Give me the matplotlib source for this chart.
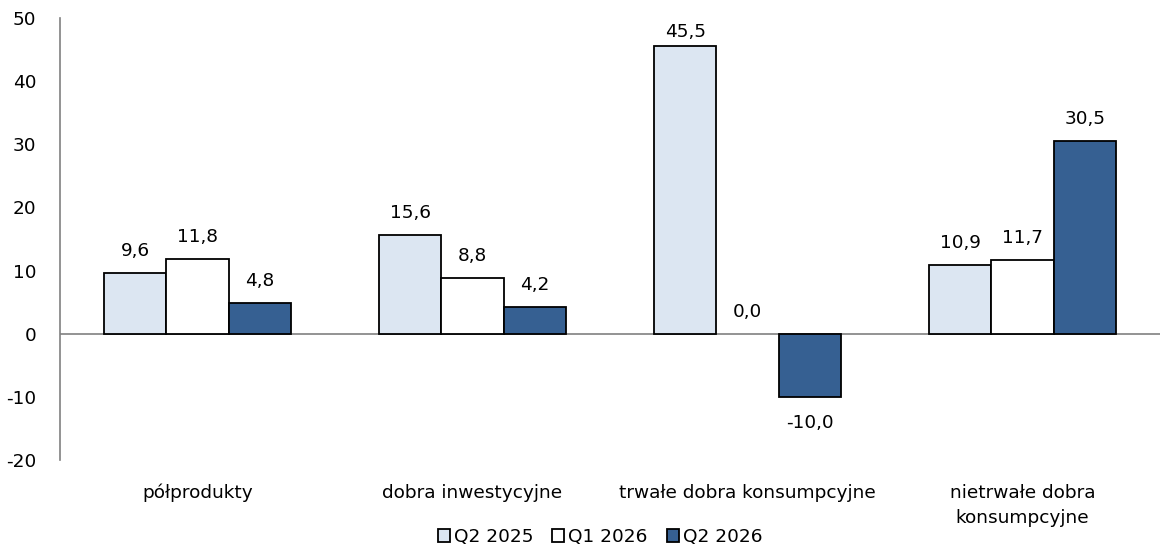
import matplotlib
matplotlib.use("Agg")
import matplotlib.pyplot as plt
import numpy as np

categories = ["półprodukty", "dobra inwestycyjne", "trwałe dobra konsumpcyjne",
              "nietrwałe dobra\nkonsumpcyjne"]
series_names = ["Q2 2025", "Q1 2026", "Q2 2026"]
q2_2025 = [9.6, 15.6, 45.5, 10.9]
q1_2026 = [11.8, 8.8, 0.0, 11.7]
q2_2026 = [4.8, 4.2, -10.0, 30.5]
y_ticks = [-20, -10, 0, 10, 20, 30, 40, 50]

colors = ["#DCE6F2", "#FFFFFF", "#366092"]

plt.rcParams['font.family'] = ['DejaVu Sans']
fig = plt.figure(figsize=(11.73, 5.52), dpi=100)
ax = fig.add_axes([60 / 1173, 1 - 460 / 552, 1100 / 1173, 442 / 552])

x = np.arange(len(categories))
width = 0.227
fs = 13.3
y_min, y_max = -20, 50

for i, (vals, name, col) in enumerate(zip([q2_2025, q1_2026, q2_2026], series_names, colors)):
    pos = x + (i - 1) * width
    lws = [0 if v == 0 else 1.3 for v in vals]
    ax.bar(pos, vals, width, color=col, edgecolor="black", linewidth=lws,
           label=name, zorder=3)
    for xp, v in zip(pos, vals):
        txt = f"{v:.1f}".replace(".", ",")
        # labels sit above positive bars (kept inside the plot) and below negative ones
        ty = min(v + 3.5, y_max - 2.2) if v >= 0 else v - 4.2
        ax.text(xp, ty, txt, ha="center", va="center", fontsize=fs)

ax.set_xlim(-0.5, len(categories) - 0.5)
ax.set_ylim(y_min, y_max)
ax.set_yticks(y_ticks)
ax.set_yticklabels([str(t) for t in y_ticks], fontsize=fs)
ax.set_xticks(x)
ax.set_xticklabels(categories, fontsize=fs, va="top", linespacing=1.5)
ax.tick_params(axis="x", length=0, pad=17)
ax.tick_params(axis="y", length=0, pad=17)
ax.axhline(0, color="#808080", linewidth=1.2, zorder=2)

for s in ["top", "right", "bottom"]:
    ax.spines[s].set_visible(False)
ax.spines["left"].set_color("#808080")
ax.spines["left"].set_linewidth(1.2)

fig.legend(loc="center", bbox_to_anchor=(600 / 1173, 1 - 537 / 552), ncol=3,
           frameon=False, fontsize=fs, handlelength=0.65, handleheight=0.65,
           handletextpad=0.2, columnspacing=1.05, borderaxespad=0)

fig.savefig("out.png", dpi=100)
